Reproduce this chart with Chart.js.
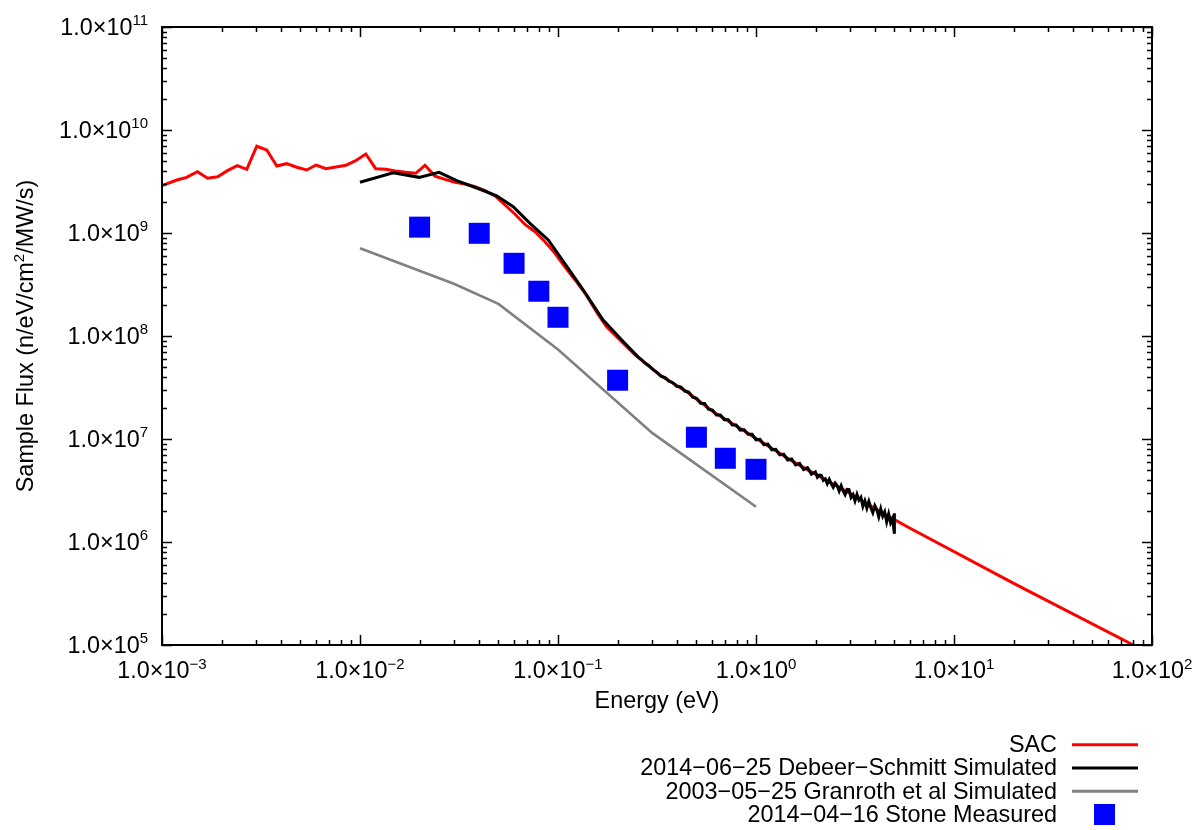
<!DOCTYPE html>
<html>
<head>
<meta charset="utf-8">
<script src="https://cdn.jsdelivr.net/npm/chart.js@4.4.1/dist/chart.umd.min.js"></script>
<style>
  html, body { margin: 0; padding: 0; background: #ffffff; }
  #wrap { width: 1200px; height: 830px; }
</style>
</head>
<body>
<div id="wrap"><canvas id="c" width="1200" height="830"></canvas></div>
<script>
// ---------------- data ----------------
const sacE = [0.001, 0.00119, 0.00133, 0.00151, 0.00170, 0.00191, 0.00214, 0.00240, 0.00268, 0.00301,
  0.00338, 0.00380, 0.00426, 0.00479, 0.00538, 0.00600, 0.00673, 0.00756, 0.00849, 0.00951,
  0.0107, 0.0120, 0.0135, 0.0151, 0.0170, 0.0191, 0.0213, 0.0239, 0.0269, 0.0302,
  0.0339, 0.0381, 0.0428, 0.0481, 0.0540, 0.0607, 0.0681, 0.0765, 0.0859, 0.0966,
  0.108, 0.122, 0.137, 0.160, 0.176, 0.245, 0.327, 0.447, 0.608, 0.830,
  1.13, 1.54, 2.10, 2.98, 4.07, 6.0, 20.7, 80.5, 100];
const sacFlux = [2.88e9, 3.27e9, 3.47e9, 3.94e9, 3.40e9, 3.52e9, 4.03e9, 4.50e9, 4.15e9, 6.95e9,
  6.39e9, 4.47e9, 4.71e9, 4.35e9, 4.09e9, 4.57e9, 4.21e9, 4.37e9, 4.54e9, 5.04e9,
  5.85e9, 4.21e9, 4.15e9, 4.00e9, 3.88e9, 3.80e9, 4.54e9, 3.57e9, 3.32e9, 3.11e9,
  2.99e9, 2.82e9, 2.58e9, 2.29e9, 1.87e9, 1.52e9, 1.21e9, 1.03e9, 8.24e8, 6.35e8,
  4.71e8, 3.50e8, 2.60e8, 1.60e8, 1.23e8, 6.54e7, 4.18e7, 2.88e7, 1.84e7, 1.27e7,
  8.75e6, 6.03e6, 4.31e6, 2.97e6, 2.05e6, 1.36e6, 3.83e5, 1.0e5, 8.1e4];

const debE = [0.0100, 0.0147, 0.0199, 0.0251, 0.0308, 0.0404, 0.0490, 0.0594, 0.0722, 0.0893,
  0.111, 0.134, 0.169, 0.214, 0.255,
  0.263, 0.275, 0.288, 0.302, 0.316, 0.331, 0.347, 0.363, 0.380, 0.398,
  0.417, 0.437, 0.457, 0.479, 0.501, 0.525, 0.550, 0.575, 0.603, 0.631,
  0.661, 0.692, 0.724, 0.759, 0.794, 0.832, 0.871, 0.912, 0.955, 1.00,
  1.047, 1.096, 1.148, 1.202, 1.259, 1.318, 1.380, 1.445, 1.514, 1.585,
  1.660, 1.738, 1.820, 1.905, 1.995, 2.042, 2.089, 2.138, 2.188, 2.239,
  2.291, 2.344, 2.399, 2.455, 2.512, 2.570, 2.630, 2.692, 2.754, 2.818,
  2.884, 2.951, 3.020, 3.090, 3.162, 3.236, 3.311, 3.388, 3.467, 3.548,
  3.631, 3.715, 3.802, 3.890, 3.981, 4.074, 4.169, 4.266, 4.365, 4.467,
  4.571, 4.677, 4.786, 4.898, 5.0, 5.0, 5.0];
const debFlux = [3.11e9, 3.85e9, 3.47e9, 3.88e9, 3.22e9, 2.66e9, 2.30e9, 1.80e9, 1.24e9, 8.55e8,
  4.71e8, 2.80e8, 1.43e8, 8.81e7, 6.21e7,
  5.94e7, 5.46e7, 5.15e7, 4.71e7, 4.44e7, 4.08e7, 3.94e7, 3.64e7, 3.52e7, 3.24e7,
  3.20e7, 2.92e7, 2.86e7, 2.55e7, 2.48e7, 2.22e7, 2.21e7, 1.95e7, 1.91e7, 1.71e7,
  1.71e7, 1.54e7, 1.54e7, 1.37e7, 1.37e7, 1.22e7, 1.23e7, 1.11e7, 1.11e7, 9.82e6,
  9.93e6, 8.83e6, 8.91e6, 7.85e6, 7.93e6, 7.01e6, 7.13e6, 6.25e6, 6.40e6, 5.60e6,
  5.79e6, 5.05e6, 5.27e6, 4.55e6, 4.78e6, 4.25e6, 4.46e6, 4.44e6, 3.96e6, 4.10e6,
  3.68e6, 4.05e6, 3.68e6, 3.40e6, 3.73e6, 3.51e6, 3.13e6, 3.52e6, 3.13e6, 2.88e6,
  3.24e6, 3.23e6, 2.71e6, 2.89e6, 2.51e6, 2.90e6, 2.55e6, 2.71e6, 2.22e6, 2.51e6,
  2.14e6, 2.48e6, 2.15e6, 1.93e6, 2.26e6, 2.07e6, 1.76e6, 2.10e6, 1.78e6, 1.96e6,
  1.57e6, 1.87e6, 1.54e6, 1.70e6, 1.20e6, 1.90e6, 1.40e6];

const granE = [0.01, 0.03, 0.05, 0.1, 0.3, 1.0];
const granFlux = [7.1e8, 3.2e8, 2.05e8, 7.4e7, 1.14e7, 2.2e6];

const stoneE = [0.02, 0.04, 0.06, 0.08, 0.1, 0.2, 0.5, 0.7, 1.0];
const stoneFlux = [1.14e9, 9.93e8, 5.08e8, 2.72e8, 1.52e8, 3.72e7, 1.04e7, 6.50e6, 5.08e6];

const seriesLabels = ['SAC', '2014\u221206\u221225 Debeer\u2212Schmitt Simulated',
  '2003\u221205\u221225 Granroth et al Simulated', '2014\u221204\u221216 Stone Measured'];
const seriesColors = ['#ff0000', '#000000', '#808080', '#0000ff'];

const xTickExps = [-3, -2, -1, 0, 1, 2];
const yTickExps = [5, 6, 7, 8, 9, 10, 11];
const tickMantissa = '1.0\u00d710';
const xTitle = 'Energy (eV)';
const yTitleParts = ['Sample Flux (n/eV/cm', '2', '/MW/s)'];

// ---------------- helpers ----------------
function pairs(xs, ys) { return xs.map((x, i) => ({ x: x, y: ys[i] })); }
const FONT = '"Liberation Sans", Arial, Helvetica, sans-serif';
const BASE_PX = 23.4, SUP_PX = 15, SUP_RISE = 9.5;

function expText(e) { return e < 0 ? '\u2212' + Math.abs(e) : String(e); }

function drawPow(ctx, exp, x, y, align) {
  ctx.font = BASE_PX + 'px ' + FONT;
  const wb = ctx.measureText(tickMantissa).width;
  ctx.font = SUP_PX + 'px ' + FONT;
  const et = expText(exp);
  const we = ctx.measureText(et).width;
  const total = wb + we;
  let sx = align === 'center' ? x - total / 2 : x - total;
  ctx.textAlign = 'left';
  ctx.textBaseline = 'alphabetic';
  ctx.font = BASE_PX + 'px ' + FONT;
  ctx.fillText(tickMantissa, sx, y);
  ctx.font = SUP_PX + 'px ' + FONT;
  ctx.fillText(et, sx + wb, y - SUP_RISE);
}

const decor = {
  id: 'decor',
  afterDatasetsDraw(chart) {
    const ctx = chart.ctx, a = chart.chartArea;
    const xs = chart.scales.x, ys = chart.scales.y;
    ctx.save();
    ctx.strokeStyle = '#000';
    ctx.lineWidth = 1.5;
    ctx.beginPath();
    for (let i = 0; i < xTickExps.length; i++) {
      const e = xTickExps[i];
      for (let m = 1; m <= 9; m++) {
        if (i === xTickExps.length - 1 && m > 1) break;
        const px = Math.round(xs.getPixelForValue(m * Math.pow(10, e))) + 0.5;
        const len = m === 1 ? 10 : 5;
        ctx.moveTo(px, a.bottom); ctx.lineTo(px, a.bottom - len);
        ctx.moveTo(px, a.top); ctx.lineTo(px, a.top + len);
      }
    }
    for (let i = 0; i < yTickExps.length; i++) {
      const e = yTickExps[i];
      for (let m = 1; m <= 9; m++) {
        if (i === yTickExps.length - 1 && m > 1) break;
        const py = Math.round(ys.getPixelForValue(m * Math.pow(10, e))) + 0.5;
        const len = m === 1 ? 10 : 5;
        ctx.moveTo(a.left, py); ctx.lineTo(a.left + len, py);
        ctx.moveTo(a.right, py); ctx.lineTo(a.right - len, py);
      }
    }
    ctx.stroke();
    ctx.lineWidth = 2;
    ctx.strokeRect(a.left, a.top, a.right - a.left, a.bottom - a.top);
    ctx.restore();
  },
  afterDraw(chart) {
    const ctx = chart.ctx, a = chart.chartArea;
    const xs = chart.scales.x, ys = chart.scales.y;
    ctx.save();
    ctx.fillStyle = '#000';
    xTickExps.forEach(e => drawPow(ctx, e, xs.getPixelForValue(Math.pow(10, e)), 678, 'center'));
    yTickExps.forEach(e => drawPow(ctx, e, 148, ys.getPixelForValue(Math.pow(10, e)) + 7.5, 'right'));
    ctx.font = BASE_PX + 'px ' + FONT;
    ctx.textAlign = 'center';
    ctx.textBaseline = 'alphabetic';
    ctx.fillText(xTitle, (a.left + a.right) / 2, 708);
    ctx.save();
    ctx.translate(33, (a.top + a.bottom) / 2);
    ctx.rotate(-Math.PI / 2);
    ctx.font = BASE_PX + 'px ' + FONT;
    const w0 = ctx.measureText(yTitleParts[0]).width;
    const w2 = ctx.measureText(yTitleParts[2]).width;
    ctx.font = SUP_PX + 'px ' + FONT;
    const w1 = ctx.measureText(yTitleParts[1]).width;
    let sx = -(w0 + w1 + w2) / 2;
    ctx.textAlign = 'left';
    ctx.font = BASE_PX + 'px ' + FONT;
    ctx.fillText(yTitleParts[0], sx, 0);
    ctx.font = SUP_PX + 'px ' + FONT;
    ctx.fillText(yTitleParts[1], sx + w0, -SUP_RISE);
    ctx.font = BASE_PX + 'px ' + FONT;
    ctx.fillText(yTitleParts[2], sx + w0 + w1, 0);
    ctx.restore();
    const rows = [744.7, 768, 791.3, 814.5];
    ctx.font = BASE_PX + 'px ' + FONT;
    ctx.textAlign = 'right';
    ctx.textBaseline = 'middle';
    for (let i = 0; i < seriesLabels.length; i++) {
      ctx.fillStyle = '#000';
      ctx.fillText(seriesLabels[i], 1057, rows[i] + 1);
      if (i < 3) {
        ctx.strokeStyle = seriesColors[i];
        ctx.lineWidth = 3;
        ctx.beginPath();
        ctx.moveTo(1072, rows[i]); ctx.lineTo(1138, rows[i]);
        ctx.stroke();
      } else {
        ctx.fillStyle = seriesColors[i];
        ctx.fillRect(1094, rows[i] - 10.5, 21, 21);
      }
    }
    ctx.restore();
  }
};

new Chart(document.getElementById('c').getContext('2d'), {
  type: 'scatter',
  data: {
    datasets: [
      { label: seriesLabels[0], data: pairs(sacE, sacFlux), showLine: true, borderColor: seriesColors[0],
        borderWidth: 3, pointRadius: 0, tension: 0, order: 3 },
      { label: seriesLabels[1], data: pairs(debE, debFlux), showLine: true, borderColor: seriesColors[1],
        borderWidth: 3, pointRadius: 0, tension: 0, order: 2 },
      { label: seriesLabels[2], data: pairs(granE, granFlux), showLine: true, borderColor: seriesColors[2],
        borderWidth: 2.6, pointRadius: 0, tension: 0, order: 1 },
      { label: seriesLabels[3], data: pairs(stoneE, stoneFlux), showLine: false, pointStyle: 'rect',
        pointRadius: 14.85, backgroundColor: seriesColors[3], borderWidth: 0, order: 0 }
    ]
  },
  options: {
    responsive: false,
    animation: false,
    devicePixelRatio: 1,
    events: [],
    layout: { padding: { left: 162, top: 27, right: 48, bottom: 185 } },
    plugins: { legend: { display: false }, tooltip: { enabled: false } },
    scales: {
      x: { type: 'logarithmic', min: 1e-3, max: 1e2, display: false },
      y: { type: 'logarithmic', min: 1e5, max: 1e11, display: false }
    }
  },
  plugins: [decor]
});
</script>
</body>
</html>
